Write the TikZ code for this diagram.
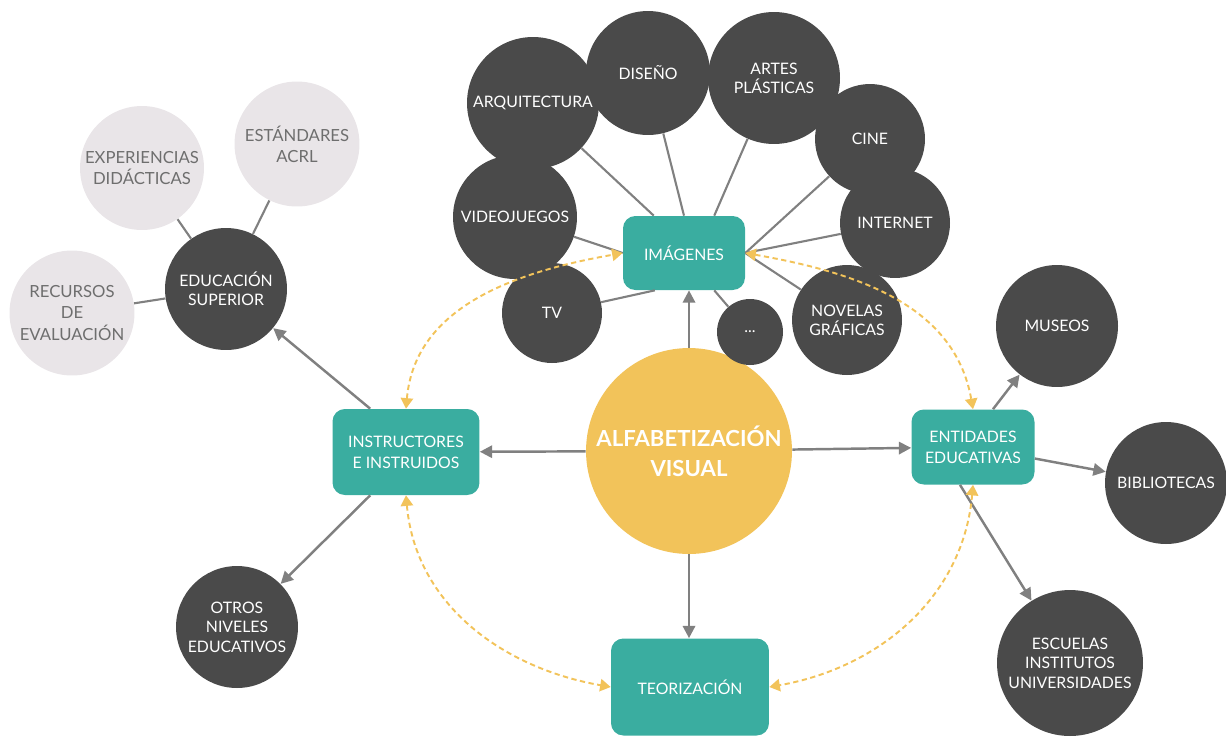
\documentclass[tikz,border=0pt]{standalone}
\usepackage{fontspec}
\setmainfont{Lato}
\usetikzlibrary{arrows.meta}

\definecolor{darkgris}{HTML}{4A4A4A}
\definecolor{clarogris}{HTML}{E9E5E8}
\definecolor{textogris}{HTML}{6E6E6E}
\definecolor{verdeazul}{HTML}{3AADA0}
\definecolor{amarillo}{HTML}{F2C35A}
\definecolor{lineagris}{HTML}{808080}

\tikzset{
    tema/.style={circle, fill=darkgris, text=white, align=center, inner sep=1pt,
        font=\fontsize{9}{11}\selectfont},
    subtema/.style={circle, fill=clarogris, text=textogris, align=center, inner sep=1pt,
        font=\fontsize{9.5}{12}\selectfont},
    caja/.style={rectangle, rounded corners=7pt, fill=verdeazul, text=white, align=center,
        font=\fontsize{9}{12}\selectfont},
    centro/.style={circle, fill=amarillo, text=white, align=center, inner sep=0pt,
        font=\fontsize{12.6}{17}\selectfont\bfseries},
    flecha/.style={draw=lineagris, line width=1.4pt, -{Triangle[length=7pt,width=7pt]}},
    enlace/.style={draw=lineagris, line width=1.2pt},
    ciclo/.style={draw=amarillo, line width=1.1pt, dash pattern=on 3pt off 2pt,
        {Triangle[length=6pt,width=7pt]}-{Triangle[length=6pt,width=7pt]}},
}

\begin{document}
\begin{tikzpicture}[x=0.02cm, y=-0.02cm]
    \useasboundingbox (0,0) rectangle (1226,738);

    % centro
    \node [centro, minimum size=4.12cm] (alfa) at (689,451) {ALFABETIZACIÓN\\VISUAL};

    % cajas
    \node [caja, minimum width=2.44cm, minimum height=1.48cm] (img) at (684,253) {IMÁGENES};
    \node [caja, minimum width=2.94cm, minimum height=1.72cm] (instr) at (406,452) {INSTRUCTORES\\E INSTRUIDOS};
    \node [caja, minimum width=2.46cm, minimum height=1.5cm] (ent) at (973,447) {ENTIDADES\\EDUCATIVAS};
    \node [caja, minimum width=3.16cm, minimum height=1.94cm] (teo) at (690,687) {TEORIZACIÓN};

    % imagenes
    \node [tema, minimum size=2.48cm] (dis) at (648,73) {DISEÑO};
    \node [tema, minimum size=2.64cm] (arq) at (533,103) {ARQUITECTURA};
    \node [tema, minimum size=2.64cm] (artes) at (774,78) {ARTES\\PLÁSTICAS};
    \node [tema, minimum size=2.2cm] (cine) at (870,139) {CINE};
    \node [tema, minimum size=2.2cm] (inet) at (895,223) {INTERNET};
    \node [tema, minimum size=2.48cm] (video) at (515,217) {VIDEOJUEGOS};
    \node [tema, minimum size=2.0cm] (tv) at (552,313) {TV};
    \node [tema, minimum size=1.32cm] (dots) at (750,332) {...};
    \node [tema, minimum size=2.2cm] (novelas) at (847,320) {NOVELAS\\GRÁFICAS};

    % entidades
    \node [tema, minimum size=2.44cm] (museos) at (1057,326) {MUSEOS};
    \node [tema, minimum size=2.44cm] (biblio) at (1166,483) {BIBLIOTECAS};
    \node [tema, minimum size=2.92cm] (escuelas) at (1070,663) {ESCUELAS\\INSTITUTOS\\UNIVERSIDADES};

    % instructores
    \node [tema, minimum size=2.44cm] (otros) at (237,627) {OTROS\\NIVELES\\EDUCATIVOS};
    \node [tema, minimum size=2.44cm] (edsup) at (226,289) {EDUCACIÓN\\SUPERIOR};
    \node [subtema, minimum size=2.48cm] (exper) at (142,168) {EXPERIENCIAS\\DIDÁCTICAS};
    \node [subtema, minimum size=2.5cm] (estand) at (297,144) {ESTÁNDARES\\ACRL};
    \node [subtema, minimum size=2.5cm] (recur) at (72,313) {RECURSOS\\DE\\EVALUACIÓN};

    % enlaces
    \draw [enlace] (arq) -- (img.129);
    \draw [enlace] (dis) -- (img.north);
    \draw [enlace] (artes) -- (img.51);
    \draw [enlace] (cine) -- (img.east);
    \draw [enlace] (inet) -- (img.east);
    \draw [enlace] (novelas) -- (img.east);
    \draw [enlace] (video) -- (img.west);
    \draw [enlace] (tv) -- (img.232);
    \draw [enlace] (dots) -- (img.-51);
    \draw [enlace] (exper) -- (edsup);
    \draw [enlace] (estand) -- (edsup);
    \draw [enlace] (recur) -- (edsup);

    % flechas
    \draw [flecha] (alfa.north) -- (alfa.north |- img.south);
    \draw [flecha] (alfa) -- (instr);
    \draw [flecha] (alfa) -- (ent);
    \draw [flecha] (alfa.south) -- (alfa.south |- teo.north);
    \draw [flecha] (instr.north west) ++(38,0) -- (edsup);
    \draw [flecha] (instr.south west) ++(38,0) -- (otros);
    \draw [flecha] (ent.north) ++(20,0) -- (museos);
    \draw [flecha] (ent) -- (biblio);
    \draw [flecha] (ent.south) ++(-13,0) -- (escuelas);

    % ciclo
    \draw [ciclo] (instr.north) to[out=85, in=190] (img.west);
    \draw [ciclo] (img.east) to[out=-10, in=100] (ent.north);
    \draw [ciclo] (instr.south) to[out=-85, in=170] (teo.west);
    \draw [ciclo] (ent.south) to[out=-95, in=10] (teo.east);
\end{tikzpicture}
\end{document}
